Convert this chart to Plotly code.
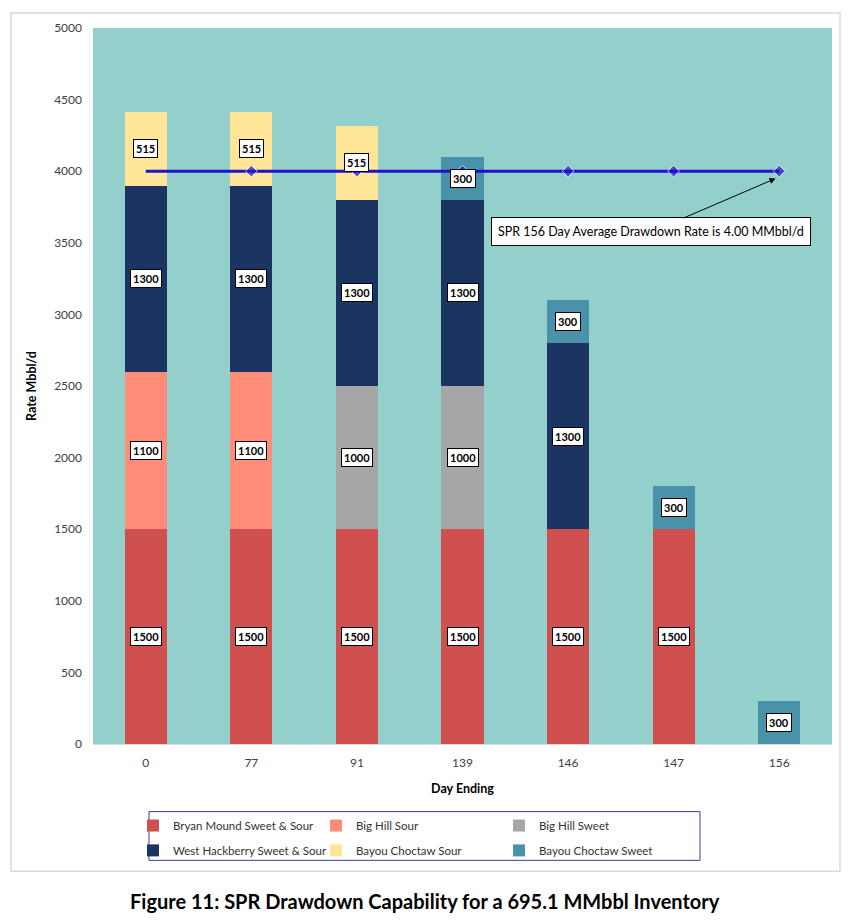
import plotly.graph_objects as go

days = ["0", "77", "91", "139", "146", "147", "156"]
bryan_mound = [1500, 1500, 1500, 1500, 1500, 1500, None]
big_hill_sour = [1100, 1100, None, None, None, None, None]
big_hill_sweet = [None, None, 1000, 1000, None, None, None]
west_hackberry = [1300, 1300, 1300, 1300, 1300, None, None]
bayou_choctaw_sour = [515, 515, 515, None, None, None, None]
bayou_choctaw_sweet = [None, None, None, 300, 300, 300, 300]
average_rate = [4000, 4000, 4000, 4000, 4000, 4000, 4000]

series = [
    ("Bryan Mound Sweet & Sour", bryan_mound, "#D04F4F", "legend"),
    ("Big Hill Sour", big_hill_sour, "#FF8B79", "legend"),
    ("Big Hill Sweet", big_hill_sweet, "#A6A6A6", "legend"),
    ("West Hackberry Sweet & Sour", west_hackberry, "#1C3461", "legend2"),
    ("Bayou Choctaw Sour", bayou_choctaw_sour, "#FFE597", "legend2"),
    ("Bayou Choctaw Sweet", bayou_choctaw_sweet, "#4A92AA", "legend2"),
]

FONT = "Lato, 'Open Sans', sans-serif"

# page has an 8px body margin, so figure pixels = page pixels - 8
OFF = 8
W, H = 860 - OFF, 923 - OFF
L, R, T, B = 93 - OFF, 832 - OFF, 24 - OFF, 744 - OFF


def px_x(x):
    return (x - OFF - L) / (R - L)


def px_y(y):
    return (B - (y - OFF)) / (B - T)


fig = go.Figure()
for name, values, color, legend in series:
    fig.add_trace(go.Bar(x=days, y=values, name=name, marker=dict(color=color, line=dict(width=0)),
                         legend=legend))

fig.add_trace(go.Scatter(x=days, y=average_rate, mode="lines+markers", showlegend=False,
                         line=dict(color="#1F10CC", width=3),
                         marker=dict(symbol="diamond", size=[0, 9, 9, 9, 9, 9, 9], color="#1F10CC")))

# boxed value labels in the middle of each segment (x given as category index)
annotations = []
bottoms = [0] * len(days)
for name, values, color, legend in series:
    for i, v in enumerate(values):
        if v is None:
            continue
        annotations.append(dict(x=i, y=bottoms[i] + v / 2, text="<b>%d</b>" % v, showarrow=False,
                                font=dict(family=FONT, size=11, color="#000000"), bgcolor="#FFFFFF",
                                bordercolor="#000000", borderwidth=1, borderpad=2))
        bottoms[i] += v

annotations.append(dict(x=len(days) - 1, y=average_rate[-1] - 40, ax=-128, ay=55, axref="pixel",
                        ayref="pixel", text="SPR 156 Day Average Drawdown Rate is 4.00 MMbbl/d", showarrow=True,
                        arrowhead=2, arrowsize=1.2, arrowwidth=1, arrowcolor="#000000", standoff=4,
                        font=dict(family=FONT, size=12.5, color="#000000"), bgcolor="#FFFFFF",
                        bordercolor="#000000", borderwidth=1, borderpad=6))

annotations.append(dict(x=px_x(425), y=px_y(902), xref="paper", yref="paper", showarrow=False,
                        xanchor="center", yanchor="middle",
                        text="<b>Figure 11: SPR Drawdown Capability for a 695.1 MMbbl Inventory</b>",
                        font=dict(family=FONT, size=20, color="#000000")))

shapes = [
    dict(type="rect", xref="paper", yref="paper", x0=px_x(11), x1=px_x(840), y0=px_y(9), y1=px_y(872),
         line=dict(color="#D9D9D9", width=1.5), layer="below"),
    dict(type="rect", xref="paper", yref="paper", x0=px_x(149), x1=px_x(700), y0=px_y(812), y1=px_y(861),
         line=dict(color="#3A3AA0", width=1)),
]

legend_style = dict(orientation="h", xanchor="left", yanchor="middle", x=px_x(133), traceorder="normal",
                    font=dict(family=FONT, size=11.5, color="#333333"), entrywidth=138,
                    bgcolor="rgba(0,0,0,0)", itemwidth=30)

fig.update_layout(
    width=W, height=H,
    barmode="stack", bargap=0.6,
    paper_bgcolor="#FFFFFF", plot_bgcolor="#93D0CC",
    margin=dict(l=L, r=W - R, t=T, b=H - B, pad=0),
    font=dict(family=FONT, size=12, color="#595959"),
    xaxis=dict(type="category", range=[-0.5, len(days) - 0.5],
               title=dict(text="<b>Day Ending</b>", font=dict(size=12.5, color="#000000"), standoff=14),
               showline=True, linecolor="#D9D9D9", ticks="", ticklabelstandoff=8,
               tickfont=dict(size=12, color="#404040")),
    yaxis=dict(title=dict(text="<b>Rate Mbbl/d</b>", font=dict(size=12.5, color="#000000"), standoff=14),
               range=[0, 5000], dtick=500, showgrid=False, zeroline=False, ticks="", ticklabelstandoff=10,
               tickfont=dict(size=12, color="#404040")),
    legend=dict(legend_style, y=px_y(826)),
    legend2=dict(legend_style, y=px_y(851)),
    annotations=annotations,
    shapes=shapes,
)

fig.write_html("out.html")
